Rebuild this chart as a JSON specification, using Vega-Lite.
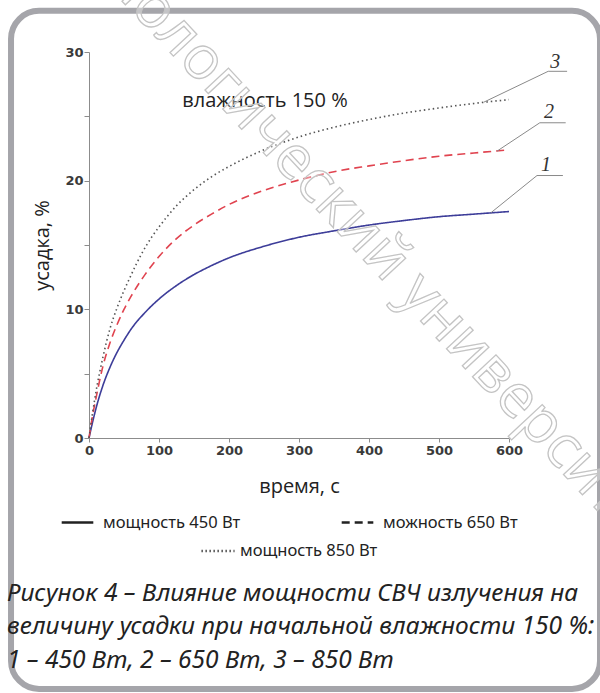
{
  "$schema": "https://vega.github.io/schema/vega-lite/v6.json",
  "width": 420,
  "height": 386,
  "autosize": {"type": "none"},
  "padding": {"left": 89, "top": 52, "right": 91, "bottom": 255},
  "background": "white",
  "config": {"view": {"stroke": null}, "font": "Open Sans"},
  "title": {
    "text": ["Рисунок 4 – Влияние мощности СВЧ излучения на", "величину усадки при начальной влажности 150 %:", "1 – 450 Вт, 2 – 650 Вт, 3 – 850 Вт"],
    "orient": "bottom",
    "anchor": "start",
    "frame": "group",
    "dx": -82,
    "offset": -110,
    "font": "Noto Sans",
    "fontSize": 24.5,
    "fontStyle": "italic",
    "fontWeight": "normal",
    "color": "#222222",
    "lineHeight": 33.5
  },
  "layer": [
    {
      "data": {"values": [{}]},
      "mark": {"type": "rect", "fill": "white", "fillOpacity": 0, "stroke": "#a5a5aa", "strokeWidth": 6, "cornerRadius": 28},
      "encoding": {
        "x": {"datum": -111.4, "type": "quantitative", "scale": {"domain": [0, 600], "nice": false, "zero": false}, "title": "время, с"},
        "x2": {"datum": 730},
        "y": {"datum": 33.2, "type": "quantitative", "scale": {"domain": [0, 30], "nice": false, "zero": false}, "title": "усадка, %"},
        "y2": {"datum": -19.5}
      }
    },
    {
      "data": {"values": [
        {"p": 450, "s": "мощность 450 Вт", "t": 0, "v": 0},
        {"p": 450, "s": "мощность 450 Вт", "t": 5, "v": 1.2},
        {"p": 450, "s": "мощность 450 Вт", "t": 10, "v": 2.3},
        {"p": 450, "s": "мощность 450 Вт", "t": 20, "v": 4.1},
        {"p": 450, "s": "мощность 450 Вт", "t": 30, "v": 5.5},
        {"p": 450, "s": "мощность 450 Вт", "t": 40, "v": 6.65},
        {"p": 450, "s": "мощность 450 Вт", "t": 50, "v": 7.6},
        {"p": 450, "s": "мощность 450 Вт", "t": 60, "v": 8.45},
        {"p": 450, "s": "мощность 450 Вт", "t": 80, "v": 9.75},
        {"p": 450, "s": "мощность 450 Вт", "t": 100, "v": 10.8},
        {"p": 450, "s": "мощность 450 Вт", "t": 125, "v": 11.85},
        {"p": 450, "s": "мощность 450 Вт", "t": 150, "v": 12.7},
        {"p": 450, "s": "мощность 450 Вт", "t": 175, "v": 13.4},
        {"p": 450, "s": "мощность 450 Вт", "t": 200, "v": 14.0},
        {"p": 450, "s": "мощность 450 Вт", "t": 250, "v": 14.9},
        {"p": 450, "s": "мощность 450 Вт", "t": 300, "v": 15.6},
        {"p": 450, "s": "мощность 450 Вт", "t": 350, "v": 16.1},
        {"p": 450, "s": "мощность 450 Вт", "t": 400, "v": 16.55},
        {"p": 450, "s": "мощность 450 Вт", "t": 450, "v": 16.9},
        {"p": 450, "s": "мощность 450 Вт", "t": 500, "v": 17.2},
        {"p": 450, "s": "мощность 450 Вт", "t": 550, "v": 17.4},
        {"p": 450, "s": "мощность 450 Вт", "t": 600, "v": 17.6},
        {"p": 650, "s": "можность 650 Вт", "t": 0, "v": 0},
        {"p": 650, "s": "можность 650 Вт", "t": 5, "v": 1.7},
        {"p": 650, "s": "можность 650 Вт", "t": 10, "v": 3.1},
        {"p": 650, "s": "можность 650 Вт", "t": 20, "v": 5.6},
        {"p": 650, "s": "можность 650 Вт", "t": 30, "v": 7.4},
        {"p": 650, "s": "можность 650 Вт", "t": 40, "v": 8.8},
        {"p": 650, "s": "можность 650 Вт", "t": 50, "v": 10.0},
        {"p": 650, "s": "можность 650 Вт", "t": 60, "v": 11.0},
        {"p": 650, "s": "можность 650 Вт", "t": 80, "v": 12.7},
        {"p": 650, "s": "можность 650 Вт", "t": 100, "v": 14.1},
        {"p": 650, "s": "можность 650 Вт", "t": 125, "v": 15.5},
        {"p": 650, "s": "можность 650 Вт", "t": 150, "v": 16.55},
        {"p": 650, "s": "можность 650 Вт", "t": 175, "v": 17.4},
        {"p": 650, "s": "можность 650 Вт", "t": 200, "v": 18.15},
        {"p": 650, "s": "можность 650 Вт", "t": 250, "v": 19.25},
        {"p": 650, "s": "можность 650 Вт", "t": 300, "v": 20.05},
        {"p": 650, "s": "можность 650 Вт", "t": 350, "v": 20.7},
        {"p": 650, "s": "можность 650 Вт", "t": 400, "v": 21.15},
        {"p": 650, "s": "можность 650 Вт", "t": 450, "v": 21.55},
        {"p": 650, "s": "можность 650 Вт", "t": 500, "v": 21.9},
        {"p": 650, "s": "можность 650 Вт", "t": 550, "v": 22.15},
        {"p": 650, "s": "можность 650 Вт", "t": 600, "v": 22.4},
        {"p": 850, "s": "мощность 850 Вт", "t": 0, "v": 0},
        {"p": 850, "s": "мощность 850 Вт", "t": 5, "v": 1.9},
        {"p": 850, "s": "мощность 850 Вт", "t": 10, "v": 3.6},
        {"p": 850, "s": "мощность 850 Вт", "t": 20, "v": 6.3},
        {"p": 850, "s": "мощность 850 Вт", "t": 30, "v": 8.5},
        {"p": 850, "s": "мощность 850 Вт", "t": 40, "v": 10.1},
        {"p": 850, "s": "мощность 850 Вт", "t": 50, "v": 11.45},
        {"p": 850, "s": "мощность 850 Вт", "t": 60, "v": 12.65},
        {"p": 850, "s": "мощность 850 Вт", "t": 75, "v": 14.3},
        {"p": 850, "s": "мощность 850 Вт", "t": 90, "v": 15.65},
        {"p": 850, "s": "мощность 850 Вт", "t": 100, "v": 16.4},
        {"p": 850, "s": "мощность 850 Вт", "t": 125, "v": 18.05},
        {"p": 850, "s": "мощность 850 Вт", "t": 150, "v": 19.3},
        {"p": 850, "s": "мощность 850 Вт", "t": 175, "v": 20.3},
        {"p": 850, "s": "мощность 850 Вт", "t": 200, "v": 21.1},
        {"p": 850, "s": "мощность 850 Вт", "t": 250, "v": 22.4},
        {"p": 850, "s": "мощность 850 Вт", "t": 300, "v": 23.4},
        {"p": 850, "s": "мощность 850 Вт", "t": 350, "v": 24.15},
        {"p": 850, "s": "мощность 850 Вт", "t": 400, "v": 24.75},
        {"p": 850, "s": "мощность 850 Вт", "t": 450, "v": 25.25},
        {"p": 850, "s": "мощность 850 Вт", "t": 500, "v": 25.65},
        {"p": 850, "s": "мощность 850 Вт", "t": 550, "v": 26.0},
        {"p": 850, "s": "мощность 850 Вт", "t": 600, "v": 26.3}
      ]},
      "mark": {"type": "line", "strokeWidth": 1.6, "interpolate": "monotone"},
      "encoding": {
        "x": {
          "field": "t", "type": "quantitative",
          "scale": {"domain": [0, 600], "nice": false, "zero": false},
          "title": "время, с",
          "axis": {
            "values": [0, 50, 100, 150, 200, 250, 300, 350, 400, 450, 500, 550, 600],
            "labelExpr": "datum.value % 100 === 0 ? datum.label : ''",
            "tickSize": 4,
            "labelFlush": false,
            "labelOverlap": false,
            "labelFont": "DejaVu Sans",
            "labelFontWeight": "bold",
            "labelFontSize": 13,
            "labelColor": "#3a3a3a",
            "labelPadding": 2,
            "domainColor": "#8c8c8c",
            "tickColor": "#8c8c8c",
            "grid": false,
            "titleFont": "Open Sans",
            "titleFontSize": 20,
            "titleFontWeight": "normal",
            "titleColor": "#222222",
            "titlePadding": 19
          }
        },
        "y": {
          "field": "v", "type": "quantitative",
          "scale": {"domain": [0, 30], "nice": false, "zero": false},
          "title": "усадка, %",
          "axis": {
            "values": [0, 5, 10, 15, 20, 25, 30],
            "labelExpr": "datum.value % 10 === 0 ? datum.label : ''",
            "tickSize": 5,
            "labelFlush": false,
            "labelOverlap": false,
            "labelFont": "DejaVu Sans",
            "labelFontWeight": "bold",
            "labelFontSize": 13,
            "labelColor": "#3a3a3a",
            "labelPadding": 1,
            "domainColor": "#8c8c8c",
            "tickColor": "#8c8c8c",
            "grid": false,
            "titleFont": "Open Sans",
            "titleFontSize": 20,
            "titleFontWeight": "normal",
            "titleColor": "#222222",
            "titlePadding": 12
          }
        },
        "color": {
          "field": "p", "type": "nominal",
          "scale": {"domain": [450, 650, 850], "range": ["#3d3d99", "#e0434f", "#555555"]},
          "legend": {
            "title": null,
            "orient": "none",
            "legendX": 111,
            "legendY": 481,
            "values": [850],
            "symbolType": "stroke",
            "symbolSize": 1100,
            "symbolDash": [1.5, 2.5],
            "symbolStrokeWidth": 2.5,
            "symbolStrokeColor": "#222222",
            "labelExpr": "'мощность ' + datum.label + ' Вт'",
            "labelFont": "Noto Sans",
            "labelFontSize": 16.5,
            "labelColor": "#222222",
            "labelOffset": 4,
            "labelLimit": 300
          }
        },
        "strokeDash": {
          "field": "s", "type": "nominal",
          "scale": {"domain": ["мощность 450 Вт", "можность 650 Вт", "мощность 850 Вт"], "range": [[1, 0], [8, 5], [1.5, 3]]},
          "legend": {
            "title": null,
            "orient": "none",
            "direction": "horizontal",
            "legendX": -29,
            "legendY": 453,
            "values": ["мощность 450 Вт", "можность 650 Вт"],
            "columns": 2,
            "columnPadding": 95,
            "symbolType": "stroke",
            "symbolSize": 1000,
            "symbolStrokeWidth": 2.5,
            "symbolStrokeColor": "#222222",
            "labelFont": "Noto Sans",
            "labelFontSize": 16.5,
            "labelColor": "#222222",
            "labelOffset": 8,
            "labelLimit": 300
          }
        }
      }
    },
    {
      "data": {"values": [
        {"id": "1", "o": 0, "lt": 574, "lv": 17.5},
        {"id": "1", "o": 1, "lt": 640, "lv": 20.4},
        {"id": "1", "o": 2, "lt": 677, "lv": 20.4},
        {"id": "2", "o": 0, "lt": 583, "lv": 22.3},
        {"id": "2", "o": 1, "lt": 644, "lv": 24.5},
        {"id": "2", "o": 2, "lt": 681, "lv": 24.5},
        {"id": "3", "o": 0, "lt": 564, "lv": 26.1},
        {"id": "3", "o": 1, "lt": 656, "lv": 28.5},
        {"id": "3", "o": 2, "lt": 683, "lv": 28.5}
      ]},
      "mark": {"type": "line", "stroke": "#8a8a8a", "strokeWidth": 1},
      "encoding": {
        "x": {"field": "lt", "type": "quantitative", "scale": {"domain": [0, 600], "nice": false, "zero": false}, "title": "время, с"},
        "y": {"field": "lv", "type": "quantitative", "scale": {"domain": [0, 30], "nice": false, "zero": false}, "title": "усадка, %"},
        "detail": {"field": "id"},
        "order": {"field": "o"}
      }
    },
    {
      "data": {"values": [
        {"id": "1", "lt": 653, "lv": 21.2},
        {"id": "2", "lt": 657, "lv": 25.3},
        {"id": "3", "lt": 666, "lv": 29.2}
      ]},
      "mark": {"type": "text", "font": "Liberation Serif", "fontStyle": "italic", "fontSize": 20, "color": "#333333", "align": "center", "baseline": "middle"},
      "encoding": {
        "x": {"field": "lt", "type": "quantitative", "scale": {"domain": [0, 600], "nice": false, "zero": false}, "title": "время, с"},
        "y": {"field": "lv", "type": "quantitative", "scale": {"domain": [0, 30], "nice": false, "zero": false}, "title": "усадка, %"},
        "text": {"field": "id"}
      }
    },
    {
      "data": {"values": [{"label": "влажность 150 %", "lt": 251.4, "lv": 26.2}]},
      "mark": {"type": "text", "font": "Open Sans", "fontSize": 20, "color": "#222222", "align": "center", "baseline": "middle"},
      "encoding": {
        "x": {"field": "lt", "type": "quantitative", "scale": {"domain": [0, 600], "nice": false, "zero": false}, "title": "время, с"},
        "y": {"field": "lv", "type": "quantitative", "scale": {"domain": [0, 30], "nice": false, "zero": false}, "title": "усадка, %"},
        "text": {"field": "label"}
      }
    },
    {
      "data": {"values": [{"label": "Технологический университет", "lt": 380, "lv": 16.6}]},
      "mark": {"type": "text", "font": "Open Sans", "fontSize": 60, "angle": 47, "fill": "white", "fillOpacity": 0.35, "stroke": "#c4c4c4", "strokeWidth": 1.3, "align": "center", "baseline": "middle"},
      "encoding": {
        "x": {"field": "lt", "type": "quantitative", "scale": {"domain": [0, 600], "nice": false, "zero": false}, "title": "время, с"},
        "y": {"field": "lv", "type": "quantitative", "scale": {"domain": [0, 30], "nice": false, "zero": false}, "title": "усадка, %"},
        "text": {"field": "label"}
      }
    }
  ]
}
